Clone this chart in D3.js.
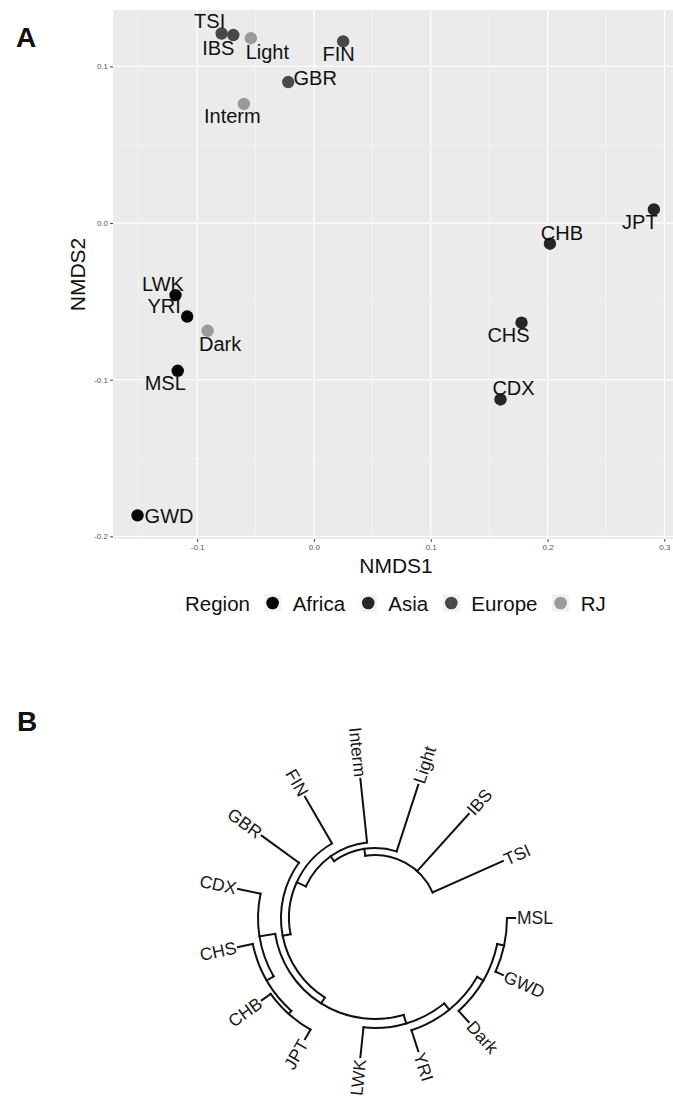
<!DOCTYPE html>
<html>
<head>
<meta charset="utf-8">
<script src="https://cdn.jsdelivr.net/npm/d3@7"></script>
<style>
  body { margin: 0; background: #fff; }
  svg { display: block; font-family: "Liberation Sans", Arial, Helvetica, sans-serif; }
</style>
</head>
<body>
<svg id="chart" width="673" height="1099"></svg>
<script>
// ---------------- DATA: panel A (NMDS) ----------------
const populations = ["TSI","IBS","Light","FIN","GBR","Interm","JPT","CHB","LWK","YRI","Dark","CHS","MSL","CDX","GWD"];
const populationRegion = ["Europe","Europe","RJ","Europe","Europe","RJ","Asia","Asia","Africa","Africa","RJ","Asia","Africa","Asia","Africa"];
const nmds1 = [-0.079, -0.069, -0.054, 0.025, -0.022, -0.060, 0.291, 0.202, -0.1185, -0.1085, -0.091, 0.1777, -0.1166, 0.1597, -0.151];
const nmds2 = [0.121, 0.120, 0.118, 0.116, 0.090, 0.076, 0.0087, -0.0132, -0.046, -0.0597, -0.0688, -0.0636, -0.0943, -0.1126, -0.1866];

const regionLevels = ["Africa","Asia","Europe","RJ"];
const xTicks = [-0.1, 0.0, 0.1, 0.2, 0.3];
const xTickLabels = ["-0.1","0.0","0.1","0.2","0.3"];
const yTicks = [-0.2, -0.1, 0.0, 0.1];
const yTickLabels = ["-0.2","-0.1","0.0","0.1"];
const xMinor = [-0.15, -0.05, 0.05, 0.15, 0.25];
const yMinor = [-0.15, -0.05, 0.05];

// ---------------- DATA: panel B (dendrogram) ----------------
const tipOrder = ["TSI","IBS","Light","Interm","FIN","GBR","CDX","CHS","CHB","JPT","LWK","YRI","Dark","GWD","MSL"];
const clusterNames   = ["GM","H","I","G","F3","F2","F","E","D","C","B","A","root"];
const clusterMembers = [["GWD","MSL"],["Dark","GM"],["YRI","H"],["LWK","I"],["CHB","JPT"],["CHS","F3"],["CDX","F2"],["F","G"],["GBR","E"],["FIN","D"],["Interm","C"],["Light","B"],["TSI","IBS","A"]];
const clusterHeights = [0.104, 0.195, 0.286, 0.390, 0.143, 0.195, 0.299, 0.506, 0.597, 0.701, 0.831, 0.909, 1.0];

// ---------------- STYLE ----------------
const regionColors = {Africa: "#050505", Asia: "#262626", Europe: "#484848", RJ: "#9a9a9a"};
// label placement relative to the point (pixels, text centre)
const labelNudge = {
  TSI: [-12, -12], IBS: [-15, 13], Light: [16.5, 13.5], FIN: [-4.5, 12.5], GBR: [27, -4],
  Interm: [-11.5, 12.5], JPT: [-14, 12.5], CHB: [12, -11], LWK: [-12.5, -11], YRI: [-23, -11],
  Dark: [12.5, 13], CHS: [-13, 12.5], MSL: [-12.5, 12], CDX: [13, -11.5], GWD: [31.5, 1]
};

const svg = d3.select("#chart");
svg.append("rect").attr("width", 673).attr("height", 1099).attr("fill", "#fff");

// ================= PANEL A =================
const P = {left: 113, right: 679, top: 10, bottom: 539};
const x = d3.scaleLinear().domain([-0.172, 0.3125]).range([P.left, P.right]);
const y = d3.scaleLinear().domain([-0.2017, 0.136]).range([P.bottom, P.top]);

const gA = svg.append("g");
gA.append("rect").attr("x", P.left).attr("y", P.top)
  .attr("width", P.right - P.left).attr("height", P.bottom - P.top).attr("fill", "#ebebeb");

// minor grid
gA.selectAll(".xminor").data(xMinor).join("line")
  .attr("x1", d => x(d)).attr("x2", d => x(d)).attr("y1", P.top).attr("y2", P.bottom)
  .attr("stroke", "#f6f6f6").attr("stroke-width", 0.6);
gA.selectAll(".yminor").data(yMinor).join("line")
  .attr("y1", d => y(d)).attr("y2", d => y(d)).attr("x1", P.left).attr("x2", P.right)
  .attr("stroke", "#f6f6f6").attr("stroke-width", 0.6);
// major grid
gA.selectAll(".xmajor").data(xTicks).join("line")
  .attr("x1", d => x(d)).attr("x2", d => x(d)).attr("y1", P.top).attr("y2", P.bottom)
  .attr("stroke", "#ffffff").attr("stroke-width", 1.2);
gA.selectAll(".ymajor").data(yTicks).join("line")
  .attr("y1", d => y(d)).attr("y2", d => y(d)).attr("x1", P.left).attr("x2", P.right)
  .attr("stroke", "#ffffff").attr("stroke-width", 1.2);

// axes
const xAxis = d3.axisBottom(x).tickValues(xTicks).tickFormat((d, i) => xTickLabels[i]).tickSize(3).tickPadding(2);
const yAxis = d3.axisLeft(y).tickValues(yTicks).tickFormat((d, i) => yTickLabels[i]).tickSize(3).tickPadding(2);
const gx = gA.append("g").attr("transform", `translate(0,${P.bottom})`).call(xAxis);
const gy = gA.append("g").attr("transform", `translate(${P.left},0)`).call(yAxis);
[gx, gy].forEach(g => {
  g.select(".domain").remove();
  g.selectAll(".tick line").attr("stroke", "#444").attr("stroke-width", 1);
  g.selectAll(".tick text").attr("fill", "#555").style("font-size", "8px")
    .style("font-family", "'Liberation Sans', Arial, sans-serif");
});

// points
const idx = d3.range(populations.length);
gA.selectAll(".pt").data(idx).join("circle")
  .attr("cx", i => x(nmds1[i])).attr("cy", i => y(nmds2[i])).attr("r", 6.2)
  .attr("fill", i => regionColors[populationRegion[i]]);

// point labels
gA.selectAll(".lab").data(idx).join("text")
  .attr("x", i => x(nmds1[i]) + labelNudge[populations[i]][0])
  .attr("y", i => y(nmds2[i]) + labelNudge[populations[i]][1])
  .attr("text-anchor", "middle").attr("dominant-baseline", "central")
  .attr("fill", "#111").style("font-size", "20px")
  .text(i => populations[i]);

// axis titles
gA.append("text").attr("x", (P.left + P.right) / 2).attr("y", 573)
  .attr("text-anchor", "middle").attr("fill", "#111").style("font-size", "21px").text("NMDS1");
gA.append("text").attr("transform", `translate(77,${(P.top + P.bottom) / 2}) rotate(-90)`)
  .attr("text-anchor", "middle").attr("dominant-baseline", "central")
  .attr("fill", "#111").style("font-size", "21px").text("NMDS2");

// legend
const lg = gA.append("g");
const legY = 603;
let cursor = 185;
const title = lg.append("text").attr("x", cursor).attr("y", legY).attr("dominant-baseline", "central")
  .attr("fill", "#111").style("font-size", "20.5px").text("Region");
cursor += title.node().getComputedTextLength() + 14;
regionLevels.forEach(level => {
  const k = 17.3;
  lg.append("rect").attr("x", cursor).attr("y", legY - k / 2).attr("width", k).attr("height", k).attr("fill", "#f2f2f2");
  lg.append("circle").attr("cx", cursor + k / 2).attr("cy", legY).attr("r", 6.3).attr("fill", regionColors[level]);
  const t = lg.append("text").attr("x", cursor + k + 11.4).attr("y", legY).attr("dominant-baseline", "central")
    .attr("fill", "#111").style("font-size", "20.5px").text(level);
  cursor += k + 11.4 + t.node().getComputedTextLength() + 14.5;
});

// panel letters
svg.append("text").attr("x", 16).attr("y", 47).attr("font-weight", "bold").attr("fill", "#111")
  .style("font-size", "28px").text("A");
svg.append("text").attr("x", 17).attr("y", 731).attr("font-weight", "bold").attr("fill", "#111")
  .style("font-size", "28px").text("B");

// ================= PANEL B =================
const cx = 375, cy = 918;
const rScale = d3.scaleLinear().domain([0, 1]).range([140, 63]);
const angle = d3.scalePoint().domain(tipOrder).range([24, 360]); // degrees, counter-clockwise

const nodeMap = new Map();
tipOrder.forEach(n => nodeMap.set(n, {name: n, height: 0}));
clusterNames.forEach((n, i) => nodeMap.set(n, {
  name: n, height: clusterHeights[i], children: clusterMembers[i].map(c => nodeMap.get(c))
}));
const root = d3.hierarchy(nodeMap.get("root"));
root.eachAfter(d => {
  d.phi = d.children ? d3.mean(d.children, c => c.phi) : angle(d.data.name);
  d.r = rScale(d.data.height);
});
const rad = phi => -phi * Math.PI / 180;

const gB = svg.append("g");
const segs = [];
root.each(d => {
  if (d.children) {
    const ext = d3.extent(d.children, c => c.phi);
    const p = d3.path();
    const a0 = rad(ext[1]), a1 = rad(ext[0]);
    p.moveTo(cx + d.r * Math.cos(a0), cy + d.r * Math.sin(a0));
    p.arc(cx, cy, d.r, a0, a1, false);
    segs.push(p.toString());
  }
  if (d.parent) {
    const a = rad(d.phi);
    const p = d3.path();
    p.moveTo(cx + d.parent.r * Math.cos(a), cy + d.parent.r * Math.sin(a));
    p.lineTo(cx + d.r * Math.cos(a), cy + d.r * Math.sin(a));
    segs.push(p.toString());
  }
});
gB.selectAll("path").data(segs).join("path")
  .attr("d", d => d).attr("fill", "none").attr("stroke", "#111")
  .attr("stroke-width", 2).attr("stroke-linecap", "square");

// tip labels
gB.selectAll(".tip").data(root.leaves()).join("text")
  .each(function(d) {
    const a = rad(d.phi);
    const deg = a * 180 / Math.PI;
    const rr = rScale(0) + 2;
    const px = cx + rr * Math.cos(a), py = cy + rr * Math.sin(a);
    const right = Math.cos(a) >= 0;
    d3.select(this)
      .attr("transform", `translate(${px},${py}) rotate(${right ? deg : deg + 180})`)
      .attr("text-anchor", right ? "start" : "end")
      .attr("dominant-baseline", "central");
  })
  .attr("fill", "#1a1a1a").style("font-size", "17.5px")
  .text(d => d.data.name);
</script>
</body>
</html>
